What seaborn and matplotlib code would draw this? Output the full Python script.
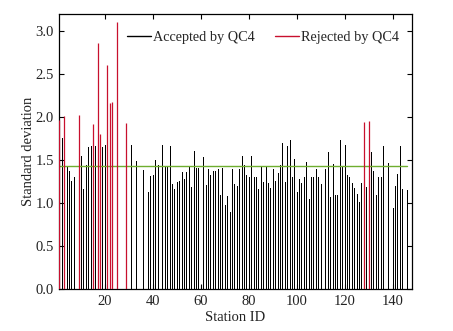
import matplotlib
matplotlib.use("Agg")
import matplotlib.pyplot as plt
from matplotlib.lines import Line2D
import seaborn as sns
import pandas as pd

# ---- data ----
stations = [1, 2, 3, 4, 5, 6, 7, 9, 10, 11, 12, 13, 14, 15, 16, 17, 18, 19, 20,
            21, 22, 23, 25, 29, 31, 33, 36, 38, 39, 40, 41, 42, 44, 45, 46, 47,
            48, 49, 50, 51, 52, 53, 54, 55, 56, 57, 58, 59, 61, 62, 63, 64, 65,
            66, 67, 68, 69, 70, 71, 72, 73, 74, 75, 76, 77, 78, 79, 80, 81, 82,
            83, 84, 85, 86, 87, 88, 89, 90, 91, 92, 93, 94, 95, 96, 97, 98, 99,
            100, 101, 102, 103, 104, 105, 106, 107, 108, 109, 110, 112, 113,
            114, 115, 116, 117, 118, 119, 120, 121, 122, 123, 124, 125, 126,
            127, 128, 129, 130, 131, 132, 133, 134, 135, 136, 138, 140, 141,
            142, 143, 144, 146]
std_values = [1.97, 1.76, 2.01, 1.43, 1.37, 1.26, 1.30, 2.02, 1.55, 1.17, 1.45,
              1.65, 1.66, 1.92, 1.66, 2.86, 1.81, 1.65, 1.68, 2.61, 2.17, 2.18,
              3.11, 1.93, 1.68, 1.49, 1.39, 1.13, 1.32, 1.33, 1.50, 1.44, 1.68,
              1.42, 1.42, 1.66, 1.22, 1.16, 1.25, 1.26, 1.36, 1.28, 1.36, 1.43,
              1.19, 1.61, 1.41, 1.41, 1.54, 1.21, 1.40, 1.33, 1.38, 1.38, 1.40,
              1.10, 1.41, 0.98, 1.08, 0.90, 1.40, 1.22, 1.20, 1.40, 1.55, 1.45,
              1.33, 1.30, 1.55, 1.30, 1.30, 1.16, 1.43, 1.25, 1.42, 1.24, 1.18,
              1.40, 1.26, 1.35, 1.45, 1.70, 1.25, 1.66, 1.74, 1.31, 1.51, 1.13,
              1.28, 1.24, 1.30, 1.48, 1.05, 1.30, 1.31, 1.40, 1.30, 1.22, 1.40,
              1.60, 1.07, 1.46, 1.10, 1.10, 1.74, 1.42, 1.68, 1.33, 1.30, 1.24,
              1.18, 1.11, 1.02, 1.24, 1.94, 1.19, 1.95, 1.59, 1.37, 1.10, 1.31,
              1.31, 1.67, 1.47, 0.94, 1.20, 1.34, 1.67, 1.17, 1.15]
rejected_ids = [1, 3, 9, 15, 17, 18, 21, 22, 23, 25, 29, 128, 130]
threshold = 1.43

status_names = ["Accepted by QC4", "Rejected by QC4"]
status_colors = ["#000000", "#c8102e"]
green = "#6fae2f"

x_ticks = [20, 40, 60, 80, 100, 120, 140]
y_ticks = [0.0, 0.5, 1.0, 1.5, 2.0, 2.5, 3.0]

df = pd.DataFrame({
    "Station ID": stations,
    "Standard deviation": std_values,
})
df["status"] = [status_names[1] if s in rejected_ids else status_names[0]
                for s in stations]

# ---- style ----
sns.set_theme(style="ticks")
plt.rcParams["font.family"] = ["Liberation Serif", "DejaVu Serif"]
plt.rcParams["font.size"] = 10

fig = plt.figure(figsize=(4.53, 3.31), dpi=100)
ax = fig.add_axes([0.131, 0.126, 0.778, 0.832])

# stems, one colour per QC status
accepted = df[df["status"] == status_names[0]]
rejected = df[df["status"] == status_names[1]]
ax.vlines(accepted["Station ID"], 0, accepted["Standard deviation"],
          colors=status_colors[0], linewidth=0.7, antialiased=False)
ax.vlines(rejected["Station ID"], 0, rejected["Standard deviation"],
          colors=status_colors[1], linewidth=0.9, antialiased=True, zorder=3)

sns.lineplot(x=[min(stations), max(stations)], y=[threshold, threshold],
             color=green, linewidth=1.0, ax=ax)

ax.set_xlim(1, 148)
ax.set_ylim(0, 3.2)
ax.set_xticks(x_ticks)
ax.set_xticklabels([str(t) for t in x_ticks])
ax.set_yticks(y_ticks)
ax.set_yticklabels([f"{t:.1f}" for t in y_ticks])
ax.tick_params(direction="in", top=True, right=True, length=3.5, width=0.8,
               labelsize=10.5, colors="black", labelcolor="#222222", pad=4)
for sp in ax.spines.values():
    sp.set_linewidth(0.9)
    sp.set_color("black")
    sp.set_visible(True)

ax.set_xlabel("Station ID", fontsize=10.5, labelpad=2, color="#222222")
ax.set_ylabel("Standard deviation", fontsize=10.5, labelpad=0, color="#222222")

handles = [Line2D([0], [0], color=c, lw=1.0) for c in status_colors]
ax.legend(handles, status_names, ncol=2, frameon=False, loc="upper center",
          bbox_to_anchor=(0.578, 0.985), handlelength=1.7, handletextpad=0.15,
          columnspacing=1.4, fontsize=10.3)

fig.savefig("out.png", dpi=100)
